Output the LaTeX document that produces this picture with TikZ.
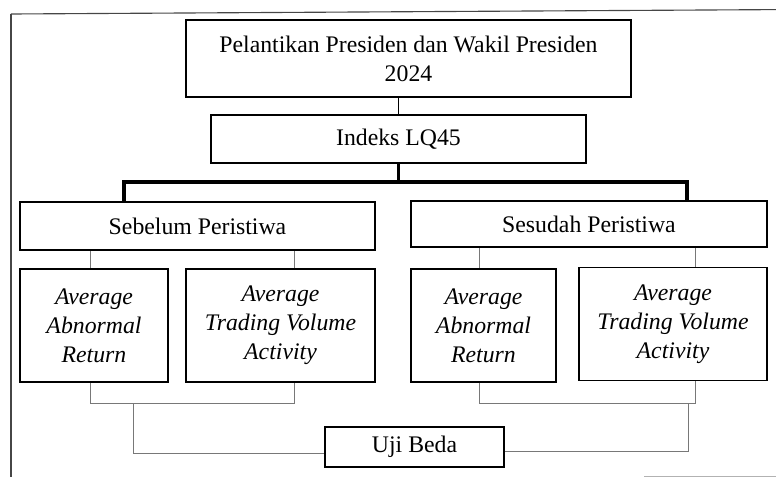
\documentclass[tikz,border=0pt]{standalone}
\usepackage{fontspec}
\setmainfont{Liberation Serif}
\usetikzlibrary{positioning,calc}
\definecolor{linkcol}{RGB}{120,120,120}
\definecolor{framecol}{RGB}{70,70,70}

\begin{document}
\begin{tikzpicture}[
  every node/.style={font=\fontsize{16.9}{20.6}\selectfont},
  %% plain framed box  \node[box={8cm}{1.2cm}]{...}
  box/.style 2 args={
    draw=black, line width=1.3pt,
    minimum width=#1, minimum height=#2,
    align=center, inner sep=2pt
  },
  %% variable box in the lower row
  var/.style={
    box={#1}{2.825cm},
    font=\fontsize{16.9}{20.6}\selectfont\itshape
  },
  %% connectors
  link/.style={line width=0.7pt, color=linkcol},
  bus/.style={line width=2.4pt, color=black},
]
\useasboundingbox (0,0) rectangle (19.4,-11.925);

%%-- outer frame (cut off on the right and at the bottom) ---------------------
\draw[framecol, line width=0.8pt] (0.275,-0.35) -- (19.4,-0.24);
\draw[framecol, line width=0.8pt] (0.275,-0.35) -- (0.275,-11.925);
\draw[gray!60, line width=0.6pt] (16.1,-11.9) -- (19.4,-11.9);

%%-- event and index -----------------------------------------------------------
\node[box={11.125cm}{1.925cm}] (event) at (10.2125,-1.4625)
  {Pelantikan Presiden dan Wakil Presiden\\2024};

\node[box={9.375cm}{1.2cm}] (lq) at (9.9625,-3.475) {Indeks LQ45};

%%-- before / after --------------------------------------------------------------
\node[box={8.875cm}{1.2cm}] (sbl) at (4.9375,-5.65) {Sebelum Peristiwa};
\node[box={8.9cm}{1.15cm}]  (ssd) at (14.725,-5.6)  {Sesudah Peristiwa};

%%-- variables -------------------------------------------------------------------
\node[var=3.7cm]   (aarA) at (2.35,-8.1375)    {Average\\Abnormal\\Return};
\node[var=4.725cm] (tvaA) at (7.0125,-8.1375)  {Average\\Trading Volume\\Activity};
\node[var=3.625cm] (aarB) at (12.0875,-8.1375) {Average\\Abnormal\\Return};
\node[var=4.7cm]   (tvaB) at (16.825,-8.1)     {Average\\Trading Volume\\Activity};

%%-- test ------------------------------------------------------------------------
\node[box={4.475cm}{1cm}] (uji) at (10.3625,-11.175) {Uji Beda};

%%-- event -> index -> bus -----------------------------------------------------
\draw[line width=0.7pt] (lq.north) -- (lq.north |- event.south);
\coordinate (busL) at (3.1,-4.55);
\coordinate (busR) at (17.175,-4.55);
\draw[bus] (lq.south) -- (lq.south |- busL);
\draw[bus] (sbl.north -| busL) -- (busL) -- (busR) -- (ssd.north -| busR);

%%-- drops to the variables --------------------------------------------------------
\coordinate (xA1) at ([xshift=-0.1cm]aarA.north);
\coordinate (xA2) at ([xshift=0.3375cm]tvaA.north);
\coordinate (xB1) at ([xshift=-0.1125cm]aarB.north);
\coordinate (xB2) at ([xshift=0.55cm]tvaB.north);
\draw[link] (xA1) -- (xA1 |- sbl.south);
\draw[link] (xA2) -- (xA2 |- sbl.south);
\draw[link] (xB1) -- (xB1 |- ssd.south);
\draw[link] (xB2) -- (xB2 |- ssd.south);

%%-- brackets into the test ----------------------------------------------------------
\coordinate (jA) at ($(xA1 |- aarA.south)+(1.075,-0.525)$);
\coordinate (jB) at ($(xB2 |- tvaB.south)+(-0.175,-0.55)$);
\draw[link] (xA1 |- aarA.south) |- (jA) -| (xA2 |- tvaA.south);
\draw[link] (xB1 |- aarB.south) |- (jB) -| (xB2 |- tvaB.south);
\draw[link] (jA) |- ([yshift=-0.15cm]uji.west);
\draw[link] (jB) |- ([yshift=-0.1cm]uji.east);

\end{tikzpicture}
\end{document}
